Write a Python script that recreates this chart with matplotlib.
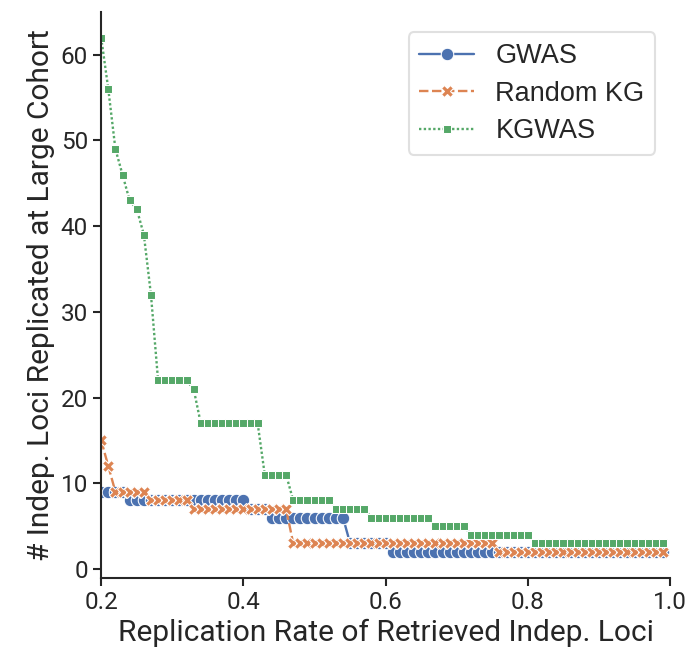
import matplotlib
matplotlib.use("Agg")
import matplotlib.pyplot as plt
import seaborn as sns
import pandas as pd

thresholds = [0.20, 0.21, 0.22, 0.23, 0.24, 0.25, 0.26, 0.27, 0.28, 0.29,
              0.30, 0.31, 0.32, 0.33, 0.34, 0.35, 0.36, 0.37, 0.38, 0.39,
              0.40, 0.41, 0.42, 0.43, 0.44, 0.45, 0.46, 0.47, 0.48, 0.49,
              0.50, 0.51, 0.52, 0.53, 0.54, 0.55, 0.56, 0.57, 0.58, 0.59,
              0.60, 0.61, 0.62, 0.63, 0.64, 0.65, 0.66, 0.67, 0.68, 0.69,
              0.70, 0.71, 0.72, 0.73, 0.74, 0.75, 0.76, 0.77, 0.78, 0.79,
              0.80, 0.81, 0.82, 0.83, 0.84, 0.85, 0.86, 0.87, 0.88, 0.89,
              0.90, 0.91, 0.92, 0.93, 0.94, 0.95, 0.96, 0.97, 0.98, 0.99]

gwas = [9, 9, 9, 9, 8, 8, 8, 8, 8, 8,
        8, 8, 8, 8, 8, 8, 8, 8, 8, 8,
        8, 7, 7, 7, 6, 6, 6, 6, 6, 6,
        6, 6, 6, 6, 6, 3, 3, 3, 3, 3,
        3, 2, 2, 2, 2, 2, 2, 2, 2, 2,
        2, 2, 2, 2, 2, 2, 2, 2, 2, 2,
        2, 2, 2, 2, 2, 2, 2, 2, 2, 2,
        2, 2, 2, 2, 2, 2, 2, 2, 2, 2]

random_kg = [15, 12, 9, 9, 9, 9, 9, 8, 8, 8,
             8, 8, 8, 7, 7, 7, 7, 7, 7, 7,
             7, 7, 7, 7, 7, 7, 7, 3, 3, 3,
             3, 3, 3, 3, 3, 3, 3, 3, 3, 3,
             3, 3, 3, 3, 3, 3, 3, 3, 3, 3,
             3, 3, 3, 3, 3, 3, 2, 2, 2, 2,
             2, 2, 2, 2, 2, 2, 2, 2, 2, 2,
             2, 2, 2, 2, 2, 2, 2, 2, 2, 2]

kgwas = [62, 56, 49, 46, 43, 42, 39, 32, 22, 22,
         22, 22, 22, 21, 17, 17, 17, 17, 17, 17,
         17, 17, 17, 11, 11, 11, 11, 8, 8, 8,
         8, 8, 8, 7, 7, 7, 7, 7, 6, 6,
         6, 6, 6, 6, 6, 6, 6, 5, 5, 5,
         5, 5, 4, 4, 4, 4, 4, 4, 4, 4,
         4, 3, 3, 3, 3, 3, 3, 3, 3, 3,
         3, 3, 3, 3, 3, 3, 3, 3, 3, 3]

methods = ["GWAS", "Random KG", "KGWAS"]
series = [gwas, random_kg, kgwas]

rows = []
for m, vals in zip(methods, series):
    for t, v in zip(thresholds, vals):
        rows.append({"rate": t, "count": v, "method": m})
df = pd.DataFrame(rows)

sns.set_theme(style="ticks", context="talk")
plt.rcParams["font.family"] = ["Roboto", "DejaVu Sans"]
plt.rcParams["text.color"] = "#262626"
plt.rcParams["axes.labelcolor"] = "#262626"
plt.rcParams["xtick.color"] = "#262626"
plt.rcParams["ytick.color"] = "#262626"
plt.rcParams["axes.edgecolor"] = "#262626"
plt.rcParams["axes.linewidth"] = 1.5
plt.rcParams["xtick.major.width"] = 1.5
plt.rcParams["ytick.major.width"] = 1.5
plt.rcParams["xtick.major.size"] = 6
plt.rcParams["ytick.major.size"] = 6
plt.rcParams["xtick.labelsize"] = 17.5
plt.rcParams["ytick.labelsize"] = 17.5
plt.rcParams["axes.labelsize"] = 21.5
plt.rcParams["lines.linewidth"] = 1.7

fig = plt.figure(figsize=(6.93, 6.6), dpi=100)
ax = fig.add_axes([0.146, 0.125, 0.821, 0.857])

sns.lineplot(data=df, x="rate", y="count", hue="method", style="method",
             markers=True, hue_order=methods, style_order=methods, ax=ax)

ax.set_xlim(0.2, 1.0)
ax.set_xticks([0.2, 0.4, 0.6, 0.8, 1.0])
ax.set_yticks([0, 10, 20, 30, 40, 50, 60])
ax.set_xlabel("Replication Rate of Retrieved Indep. Loci")
ax.set_ylabel("# Indep. Loci Replicated at Large Cohort")
sns.despine(ax=ax)

leg = ax.legend(loc="upper right", frameon=True, borderaxespad=0.55,
                bbox_to_anchor=(1.0, 0.99),
                handlelength=2.0, handletextpad=0.8, borderpad=0.4,
                labelspacing=0.42,
                prop={"family": ["Liberation Sans", "DejaVu Sans"], "size": 19.5})
leg.get_frame().set_edgecolor("#d9d9d9")

fig.savefig("out.png", dpi=100)
